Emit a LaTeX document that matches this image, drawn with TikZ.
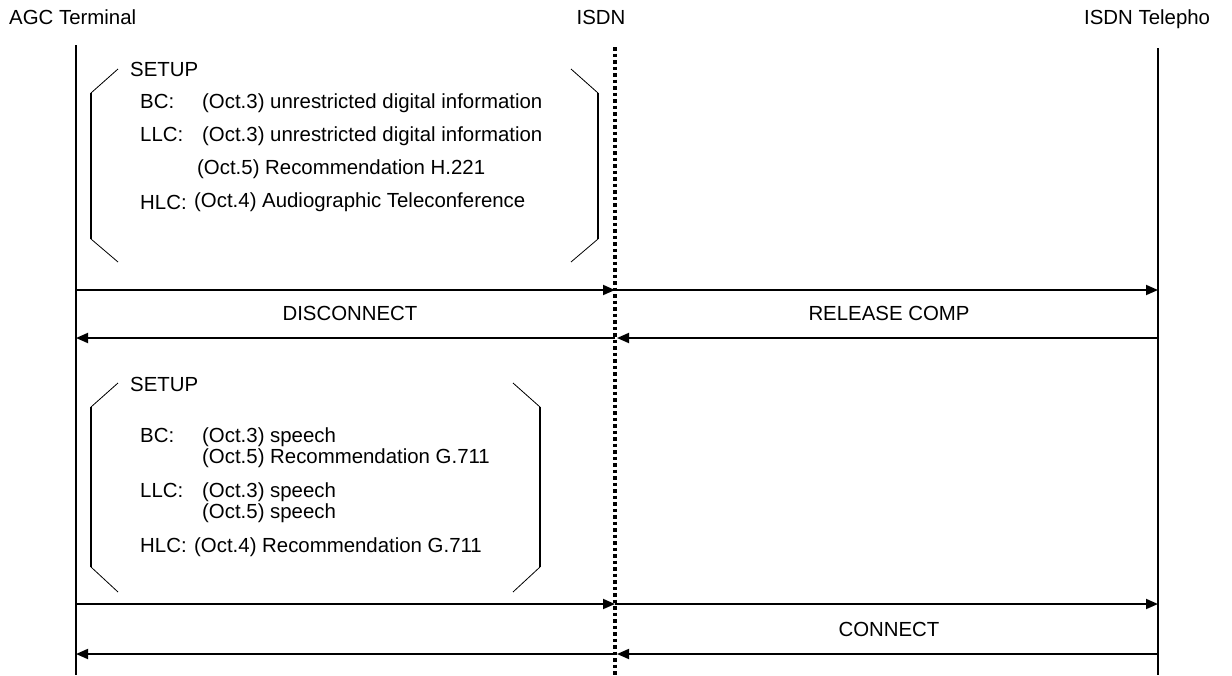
\documentclass[tikz,border=0pt]{standalone}
\usepackage{fontspec}
\setmainfont{Liberation Sans}
\usetikzlibrary{arrows.meta}
\begin{document}
\begin{tikzpicture}[x=1pt,y=-1pt,
  lbl/.style={inner sep=0pt, anchor=base west, font=\fontsize{20.4}{24}\selectfont},
  clbl/.style={lbl, anchor=base},
  life/.style={line width=1.8pt},
  isdnline/.style={line width=3.5pt, dash pattern=on 3.5pt off 3pt},
  msg/.style={line width=1.8pt, -{Triangle[length=12pt,width=10pt]}},
  brk/.style={line width=1.8pt},
  brkd/.style={line width=0.8pt},
]
\useasboundingbox (0,0) rectangle (1232,675);
% headers
\node[lbl] (agc) at (9,24) {AGC Terminal};
\node[clbl] (isdn) at (601,24) {ISDN};
\node[lbl] (tel) at (1084,24) {ISDN Telepho};
% lifelines
\coordinate (aT) at (76,45);  \coordinate (aB) at (76,675);
\coordinate (iT) at (615,47); \coordinate (iB) at (615,675);
\coordinate (tT) at (1158,48); \coordinate (tB) at (1158,675);
\draw[life] (aT) -- (aB);
\draw[life] (tT) -- (tB);
\draw[isdnline] (iT) -- (iB);
% message points
\foreach \n/\y in {1/290,2/338,3/604,4/654}{
  \coordinate (a\n) at (76,\y);
  \coordinate (i\n) at (615,\y);
  \coordinate (t\n) at (1158,\y);
}
\draw[msg] (a1) -- (i1);
\draw[msg] (i1) -- (t1);
\draw[msg] (t2) -- ([xshift=2pt]i2);
\draw[msg] (i2) -- (a2);
\draw[msg] (a3) -- (i3);
\draw[msg] (i3) -- (t3);
\draw[msg] (t4) -- ([xshift=2pt]i4);
\draw[msg] (i4) -- (a4);
\node[clbl] (disc) at (350,320.5) {DISCONNECT};
\node[clbl] (rel) at (889,320.5) {RELEASE COMP};
\node[clbl] (conn) at (889,636.5) {CONNECT};
% bracket 1
\draw[brkd] (118,69) -- (91,93);
\draw[brk] (91,93) -- (91,239);
\draw[brkd] (91,239) -- (118,262);
\draw[brkd] (571,69) -- (598,93);
\draw[brk] (598,93) -- (598,239);
\draw[brkd] (598,239) -- (571,262);
\node[lbl] (s1) at (130,76) {SETUP};
\node[lbl] (s1bc) at (140,108) {BC:};
\node[lbl] (s1bcv) at (202,108) {(Oct.3) unrestricted digital information};
\node[lbl] (s1llc) at (140,141.5) {LLC:};
\node[lbl] (s1llcv) at (202,141.5) {(Oct.3) unrestricted digital information};
\node[lbl] (s1llcw) at (197,174.5) {(Oct.5) Recommendation H.221};
\node[lbl] (s1hlc) at (140,209) {HLC:};
\node[lbl] (s1hlcv) at (194,207) {(Oct.4) Audiographic Teleconference};
% bracket 2
\draw[brkd] (118,383) -- (91,407);
\draw[brk] (91,407) -- (91,567);
\draw[brkd] (91,567) -- (118,592);
\draw[brkd] (513,383) -- (540,407);
\draw[brk] (540,407) -- (540,567);
\draw[brkd] (540,567) -- (513,592);
\node[lbl] (s2) at (130,391) {SETUP};
\node[lbl] (s2bc) at (140,442) {BC:};
\node[lbl] (s2bcv) at (202,442) {(Oct.3) speech};
\node[lbl] (s2bcw) at (202,463) {(Oct.5) Recommendation G.711};
\node[lbl] (s2llc) at (140,497.5) {LLC:};
\node[lbl] (s2llcv) at (202,497.5) {(Oct.3) speech};
\node[lbl] (s2llcw) at (202,518.5) {(Oct.5) speech};
\node[lbl] (s2hlc) at (140,552.5) {HLC:};
\node[lbl] (s2hlcv) at (194,552.5) {(Oct.4) Recommendation G.711};
\end{tikzpicture}
\end{document}
